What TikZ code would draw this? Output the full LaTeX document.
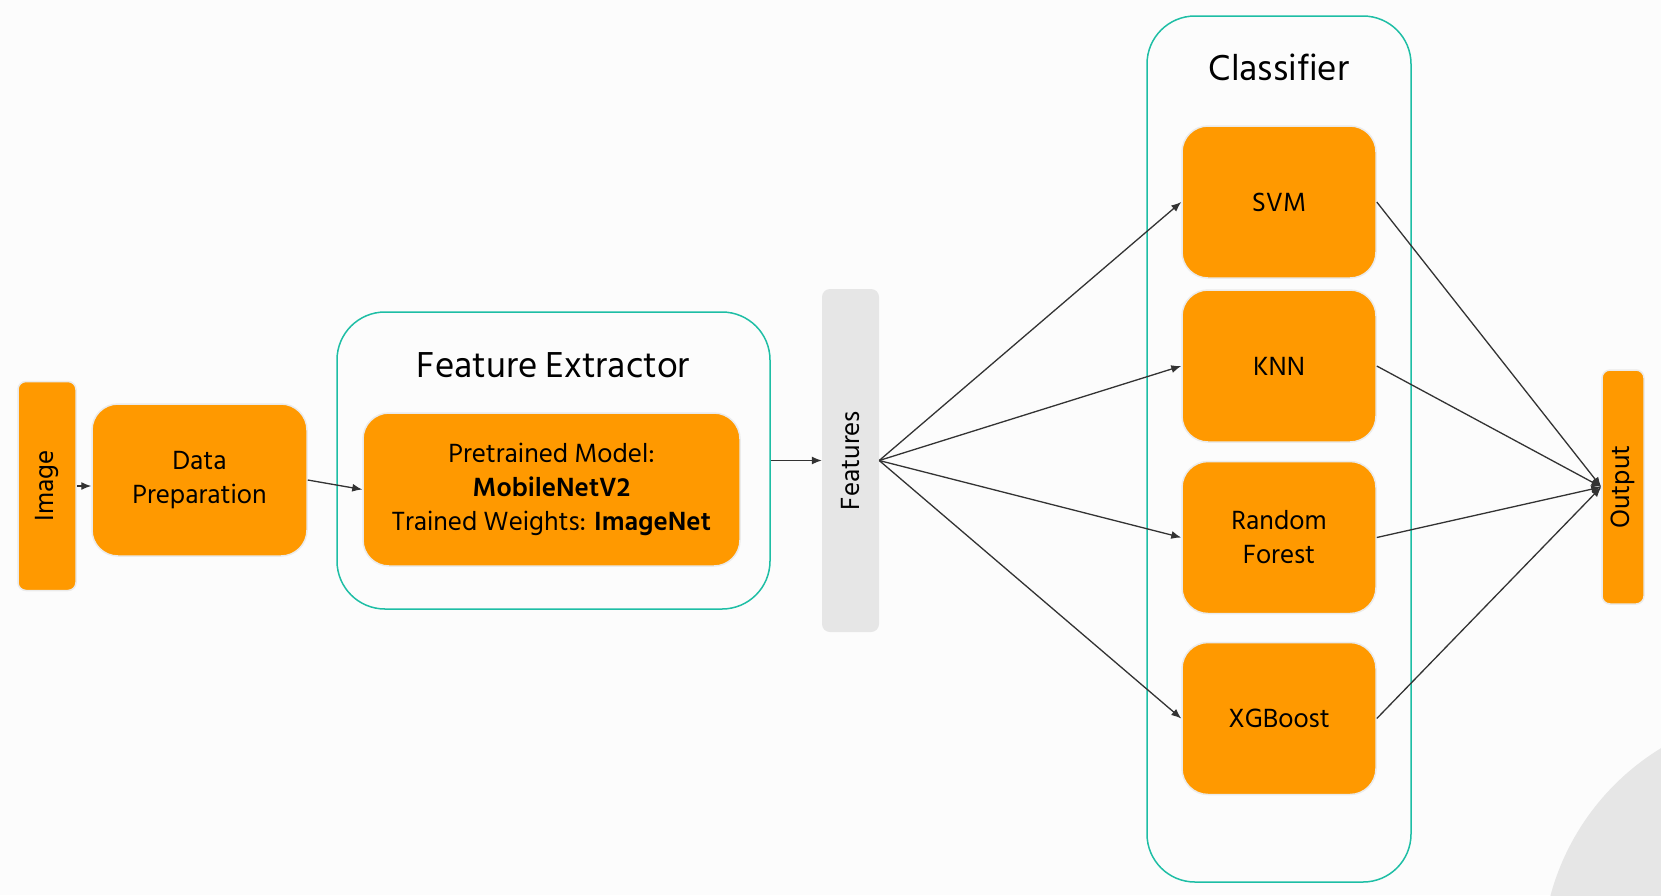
\documentclass[tikz,border=0pt]{standalone}
\usepackage{fontspec}
\setmainfont{Hind Siliguri}
\usepackage{xcolor}
\usetikzlibrary{shapes,arrows,arrows.meta,positioning,fit,backgrounds}
\definecolor{boxorange}{HTML}{FF9900}
\definecolor{frameteal}{HTML}{1EBEA5}
\definecolor{featgray}{HTML}{E6E6E6}
\definecolor{paper}{HTML}{FCFCFC}
\definecolor{inkgray}{HTML}{333333}
\tikzstyle{block} = [rectangle, draw=black!8, line width=1.5pt, fill=boxorange,
    inner sep=0pt, align=center, rounded corners=26pt, font=\fontsize{27}{34}\selectfont]
\tikzstyle{strip} = [rectangle, draw=black!8, line width=1.5pt, fill=boxorange,
    inner sep=0pt, rounded corners=8pt]
\tikzstyle{vlabel} = [rotate=90, font=\fontsize{27}{34}\selectfont]
\tikzstyle{frame} = [rectangle, draw=frameteal, line width=1.5pt, inner sep=0pt,
    rounded corners=48pt]
\tikzstyle{title} = [font=\fontsize{37}{42}\selectfont]
\tikzstyle{line} = [draw=inkgray, line width=1.3pt, -{Latex[length=10pt,width=8pt]}]
\tikzset{
    every node/.style={text=black}
}

\begin{document}
\begin{tikzpicture}[x=1pt,y=-1pt]
            % Canvas
            \useasboundingbox (0,0) rectangle (1661,895);
            \fill[paper] (0,0) rectangle (1661,895);
            \begin{scope}
                \clip (0,0) rectangle (1661,895);
                \fill[featgray] (1790,960) circle (248);
            \end{scope}

            % Input side
            \node [strip, minimum width=58pt, minimum height=209pt] (img) at (47,486) {};
            \node [vlabel] at (img) {Image};
            \node [block, minimum width=215pt, minimum height=152pt] (prep) at (199.5,480) {Data\\Preparation};

            % Feature extractor
            \node [frame, minimum width=433pt, minimum height=297pt] (fe) at (553.5,460.5) {};
            \node [title] (fetitle) at (553.5,365) {Feature Extractor};
            \node [block, minimum width=377pt, minimum height=153pt] (model) at (551.5,489.5)
                {Pretrained Model:\\\textbf{MobileNetV2}\\Trained Weights: \textbf{ImageNet}};

            % Features
            \node [rectangle, fill=featgray, rounded corners=8pt, inner sep=0pt,
                   minimum width=57pt, minimum height=343pt] (feat) at (850.5,460.5) {};
            \node [vlabel] at (feat) {Features};

            % Classifier
            \node [frame, minimum width=264pt, minimum height=866pt] (cls) at (1279,449) {};
            \node [title] (clstitle) at (1279,67) {Classifier};
            \node [block, minimum width=194pt, minimum height=152pt] (svm) at (1279,202) {SVM};
            \node [block, minimum width=194pt, minimum height=152pt] (knn) at (1279,366) {KNN};
            \node [block, minimum width=194pt, minimum height=152pt] (rf) at (1279,537.5) {Random\\Forest};
            \node [block, minimum width=194pt, minimum height=152pt] (xgb) at (1279,718.5) {XGBoost};

            % Output
            \node [strip, minimum width=42pt, minimum height=234pt] (out) at (1623,487) {};
            \node [vlabel] at (out) {Output};

            % Connect everything
            \path [line] (img.east) -- (prep.west |- img.east);
            \path [line] (prep.east) -- (model.west);
            \path [line] (fe.east) -- (feat.west);
            \foreach \c in {svm,knn,rf,xgb} {
                \path [line] (feat.east) -- (\c.west);
                \path [line] (\c.east) -- (out.west);
            }
        \end{tikzpicture}
\end{document}
